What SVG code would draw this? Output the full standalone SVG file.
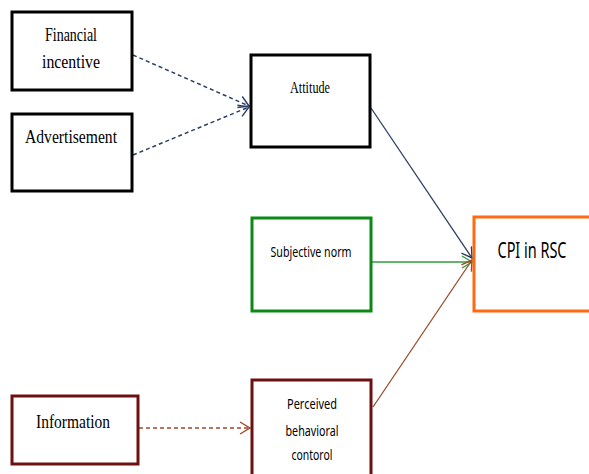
<svg xmlns="http://www.w3.org/2000/svg" width="589" height="474" viewBox="0 0 589 474">
<style>
.box{fill:#fff;stroke-width:3}
.blk{stroke:#000}
.grn{stroke:#0a8a12}
.org{stroke:#ff6a10;fill:none;stroke-width:3}
.mar{stroke:#6e1010}
.serif{font-family:"Liberation Serif","Times New Roman",serif;fill:#000}
.sans{font-family:"Noto Sans","Liberation Sans",Arial,sans-serif;fill:#000}
.c{fill:none;stroke-width:1.3}
.dash{stroke-dasharray:4 3;stroke-width:1.5}
</style>
<defs>
<marker id="aNavy" markerUnits="userSpaceOnUse" markerWidth="14" markerHeight="16" viewBox="-1 -8 13 16" refX="10" refY="0" orient="auto"><path d="M0,-6 L10,0 L0,6" fill="none" stroke="#2a3f63" stroke-width="1.4"/></marker>
<marker id="aGreen" markerUnits="userSpaceOnUse" markerWidth="14" markerHeight="16" viewBox="-1 -8 13 16" refX="10" refY="0" orient="auto"><path d="M0,-6 L10,0 L0,6" fill="none" stroke="#2e9e3a" stroke-width="1.4"/></marker>
<marker id="aBrown" markerUnits="userSpaceOnUse" markerWidth="14" markerHeight="16" viewBox="-1 -8 13 16" refX="10" refY="0" orient="auto"><path d="M0,-6 L10,0 L0,6" fill="none" stroke="#9c4a2a" stroke-width="1.4"/></marker>
</defs>
<rect width="589" height="474" fill="#fff"/>
<g id="connectors">
<line class="c dash" x1="133" y1="55" x2="249" y2="106" stroke="#2a3f63" marker-end="url(#aNavy)"/>
<line class="c dash" x1="133" y1="155" x2="249" y2="107" stroke="#2a3f63" marker-end="url(#aNavy)"/>
<line class="c" x1="371" y1="108" x2="472" y2="258" stroke="#2a3f63" marker-end="url(#aNavy)"/>
<line class="c" x1="372" y1="262" x2="472" y2="262" stroke="#2e9e3a" marker-end="url(#aGreen)"/>
<line class="c" x1="373" y1="407" x2="472" y2="260" stroke="#9c4a2a" marker-end="url(#aBrown)"/>
<line class="c dash" x1="139" y1="428" x2="250" y2="428" stroke="#9c4a2a" marker-end="url(#aBrown)"/>
</g>
<g id="financial">
<rect class="box blk" x="12" y="12" width="120" height="78"/>
<text class="serif" x="71" y="41" font-size="19" text-anchor="middle" textLength="52" lengthAdjust="spacingAndGlyphs">Financial</text>
<text class="serif" x="71" y="68" font-size="19" text-anchor="middle" textLength="58" lengthAdjust="spacingAndGlyphs">incentive</text>
</g>
<g id="advertisement">
<rect class="box blk" x="12" y="114" width="120" height="77"/>
<text class="serif" x="71" y="143" font-size="19" text-anchor="middle" textLength="92" lengthAdjust="spacingAndGlyphs">Advertisement</text>
</g>
<g id="attitude">
<rect class="box blk" x="251" y="55" width="119" height="92"/>
<text class="serif" x="310" y="93" font-size="16" text-anchor="middle" textLength="40" lengthAdjust="spacingAndGlyphs">Attitude</text>
</g>
<g id="subjective">
<rect class="box grn" x="252" y="218" width="119" height="93"/>
<text class="sans" x="311" y="257" font-size="15" text-anchor="middle" textLength="81" lengthAdjust="spacingAndGlyphs">Subjective norm</text>
</g>
<g id="cpi">
<rect x="474" y="217" width="115" height="94" fill="#fff"/>
<path class="org" d="M589,217 H474 V311 H589"/>
<text class="sans" x="532" y="258" font-size="21" text-anchor="middle" textLength="69" lengthAdjust="spacingAndGlyphs">CPI in RSC</text>
</g>
<g id="information">
<rect class="box mar" x="12" y="396" width="126" height="68"/>
<text class="serif" x="73" y="428" font-size="19" text-anchor="middle" textLength="74" lengthAdjust="spacingAndGlyphs">Information</text>
</g>
<g id="perceived">
<rect x="252" y="380" width="119" height="94" fill="#fff"/>
<path class="box mar" fill="none" d="M252,474 V380 H371 V474"/>
<text class="sans" x="312" y="409" font-size="15" text-anchor="middle" textLength="50" lengthAdjust="spacingAndGlyphs">Perceived</text>
<text class="sans" x="312" y="436" font-size="15" text-anchor="middle" textLength="53" lengthAdjust="spacingAndGlyphs">behavioral</text>
<text class="sans" x="312" y="460" font-size="15" text-anchor="middle" textLength="41" lengthAdjust="spacingAndGlyphs">contorol</text>
</g>
</svg>
